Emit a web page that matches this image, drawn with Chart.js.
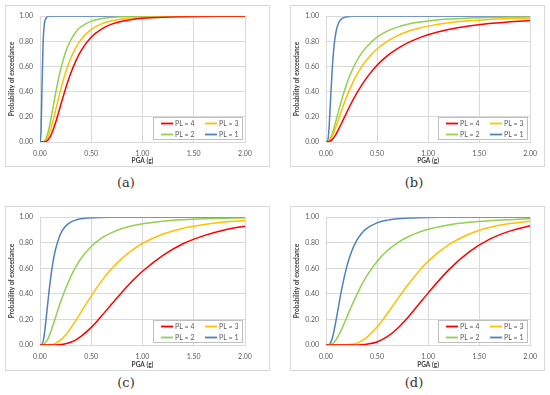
<!DOCTYPE html>
<html>
<head>
<meta charset="utf-8">
<script src="https://cdn.jsdelivr.net/npm/chart.js@4.4.1/dist/chart.umd.min.js"></script>
<style>
    body { margin: 0; background: #fff; width: 550px; height: 395px; position: relative; overflow: hidden; }
    .frame { position: absolute; border: 1px solid #d9d9d9; box-sizing: border-box; }
    canvas { position: absolute; }
    .cap { position: absolute; font-family: "DejaVu Serif", serif; font-size: 13px; color: #333; transform: translate(-50%, -50%); }
</style>
</head>
<body>
<div id="root"></div>
<script>
// PGA values (g) shared by every curve
const pga = [0, 0.01, 0.02, 0.03, 0.04, 0.06, 0.08, 0.1, 0.125, 0.15, 0.2, 0.25, 0.3, 0.35, 0.4,
             0.5, 0.6, 0.7, 0.8, 0.9, 1.0, 1.2, 1.4, 1.6, 1.8, 2.0];
const xTicks = [0, 0.5, 1.0, 1.5, 2.0];
const yTicks = [0, 0.2, 0.4, 0.6, 0.8, 1.0];
const seriesLabels = ['PL = 4', 'PL = 3', 'PL = 2', 'PL = 1'];

// (a)
const aPL4 = [0, 0, 0, 0, 0.0006, 0.005, 0.018, 0.043, 0.09, 0.149, 0.288, 0.425, 0.546, 0.645, 0.724, 0.834, 0.898, 0.937, 0.96, 0.974, 0.983, 0.992, 0.996, 0.998, 0.999, 1];
const aPL3 = [0, 0, 0, 0.0005, 0.002, 0.015, 0.045, 0.09, 0.163, 0.245, 0.412, 0.554, 0.666, 0.751, 0.814, 0.895, 0.939, 0.964, 0.978, 0.986, 0.991, 0.996, 0.998, 0.999, 1, 1];
const aPL2 = [0, 0, 0, 0.001, 0.005, 0.029, 0.081, 0.156, 0.265, 0.378, 0.572, 0.715, 0.811, 0.875, 0.916, 0.961, 0.981, 0.99, 0.995, 0.997, 0.998, 0.999, 1, 1, 1, 1];
const aPL1 = [0, 0.08, 0.45, 0.78, 0.92, 0.985, 0.998, 1, 1, 1, 1, 1, 1, 1, 1, 1, 1, 1, 1, 1, 1, 1, 1, 1, 1, 1];

// (b)
const bPL4 = [0, 0, 0.0005, 0.002, 0.006, 0.019, 0.039, 0.065, 0.104, 0.145, 0.23, 0.312, 0.386, 0.452, 0.512, 0.61, 0.684, 0.742, 0.788, 0.824, 0.853, 0.894, 0.922, 0.942, 0.955, 0.966];
const bPL3 = [0, 0, 0.002, 0.007, 0.015, 0.044, 0.082, 0.127, 0.185, 0.244, 0.355, 0.45, 0.531, 0.599, 0.654, 0.739, 0.8, 0.846, 0.879, 0.903, 0.921, 0.947, 0.963, 0.974, 0.981, 0.985];
const bPL2 = [0, 0, 0.002, 0.01, 0.022, 0.063, 0.117, 0.176, 0.253, 0.326, 0.456, 0.56, 0.642, 0.708, 0.758, 0.833, 0.881, 0.913, 0.936, 0.951, 0.962, 0.977, 0.985, 0.99, 0.993, 0.995];
const bPL1 = [0, 0, 0.022, 0.113, 0.261, 0.569, 0.773, 0.884, 0.95, 0.977, 0.995, 0.999, 1, 1, 1, 1, 1, 1, 1, 1, 1, 1, 1, 1, 1, 1];

// (c)
const cPL4 = [0, 0, 0, 0, 0, 0, 0, 0, 0, 0.0005, 0.003, 0.009, 0.021, 0.04, 0.067, 0.138, 0.227, 0.321, 0.413, 0.5, 0.577, 0.702, 0.794, 0.856, 0.9, 0.93];
const cPL3 = [0, 0, 0, 0, 0, 0, 0.0006, 0.002, 0.006, 0.013, 0.038, 0.079, 0.132, 0.192, 0.257, 0.385, 0.5, 0.598, 0.678, 0.743, 0.794, 0.868, 0.914, 0.943, 0.962, 0.974];
const cPL2 = [0, 0, 0, 0.002, 0.006, 0.024, 0.054, 0.093, 0.151, 0.212, 0.334, 0.442, 0.535, 0.613, 0.677, 0.771, 0.836, 0.879, 0.911, 0.933, 0.949, 0.969, 0.98, 0.987, 0.992, 0.994];
const cPL1 = [0, 0, 0.005, 0.026, 0.07, 0.206, 0.36, 0.5, 0.64, 0.743, 0.868, 0.93, 0.962, 0.978, 0.987, 0.995, 0.998, 0.999, 1, 1, 1, 1, 1, 1, 1, 1];

// (d)
const dPL4 = [0, 0, 0, 0, 0, 0, 0, 0, 0, 0, 0, 0, 0.0006, 0.002, 0.006, 0.024, 0.065, 0.129, 0.213, 0.309, 0.406, 0.586, 0.727, 0.826, 0.891, 0.933];
const dPL3 = [0, 0, 0, 0, 0, 0, 0, 0, 0, 0, 0.001, 0.005, 0.015, 0.033, 0.06, 0.14, 0.245, 0.359, 0.468, 0.568, 0.654, 0.783, 0.867, 0.919, 0.95, 0.969];
const dPL2 = [0, 0, 0, 0.0005, 0.002, 0.008, 0.022, 0.043, 0.077, 0.117, 0.209, 0.303, 0.39, 0.472, 0.541, 0.654, 0.738, 0.799, 0.845, 0.879, 0.905, 0.939, 0.96, 0.973, 0.981, 0.987];
const dPL1 = [0, 0, 0.0003, 0.003, 0.011, 0.049, 0.115, 0.2, 0.312, 0.421, 0.602, 0.729, 0.816, 0.875, 0.913, 0.956, 0.977, 0.988, 0.993, 0.996, 0.998, 0.999, 1, 1, 1, 1];

const lineColors = ['#ff0000', '#ffc000', '#92d050', '#4f81bd'];

// panel frame [left, top, width, height] and plot area [left, top, right, bottom] in page pixels
const panels = [
    { tag: '(a)', series: [aPL4, aPL3, aPL2, aPL1], box: [5, 5, 265, 162], plot: [40, 13, 245, 142], cap: [126, 182] },
    { tag: '(b)', series: [bPL4, bPL3, bPL2, bPL1], box: [290, 5, 255, 162], plot: [326, 13, 531, 142], cap: [414, 182] },
    { tag: '(c)', series: [cPL4, cPL3, cPL2, cPL1], box: [5, 206, 265, 165], plot: [40, 216, 245, 345], cap: [126, 382] },
    { tag: '(d)', series: [dPL4, dPL3, dPL2, dPL1], box: [290, 206, 255, 165], plot: [326, 216, 531, 345], cap: [414, 382] }
];

Chart.defaults.font.family = 'Lato';
Chart.defaults.color = '#595959';

// Excel-style legend box sitting in the lower right corner of the plot
const legendBox = {
    id: 'legendBox',
    afterDraw(chart) {
        const { ctx, chartArea } = chart;
        const w = 89, h = 22;
        const x0 = Math.round(chartArea.right - 3 - w), y0 = Math.round(chartArea.bottom - 3 - h);
        ctx.save();
        ctx.fillStyle = '#fff';
        ctx.fillRect(x0, y0, w, h);
        ctx.strokeStyle = '#bfbfbf';
        ctx.lineWidth = 1;
        ctx.strokeRect(x0 + 0.5, y0 + 0.5, w, h);
        ctx.font = '7px Lato';
        ctx.textBaseline = 'middle';
        chart.data.datasets.forEach((ds, i) => {
            const lx = x0 + 8 + (i % 2) * 44;
            const ly = y0 + 6.5 + Math.floor(i / 2) * 11;
            ctx.strokeStyle = ds.borderColor;
            ctx.lineWidth = 1.8;
            ctx.beginPath();
            ctx.moveTo(lx, ly);
            ctx.lineTo(lx + 12, ly);
            ctx.stroke();
            ctx.fillStyle = '#595959';
            ctx.fillText(ds.label, lx + 14, ly);
        });
        ctx.restore();
    }
};

const root = document.getElementById('root');

panels.forEach(p => {
    const [bl, bt, bw, bh] = p.box;
    const [pl, pt, pr, pb] = p.plot;

    const frame = document.createElement('div');
    frame.className = 'frame';
    Object.assign(frame.style, { left: bl + 'px', top: bt + 'px', width: bw + 'px', height: bh + 'px' });
    root.appendChild(frame);

    const canvas = document.createElement('canvas');
    canvas.width = bw;
    canvas.height = bh;
    Object.assign(canvas.style, { left: bl + 'px', top: bt + 'px', width: bw + 'px', height: bh + 'px' });
    root.appendChild(canvas);

    const cap = document.createElement('div');
    cap.className = 'cap';
    cap.textContent = p.tag;
    Object.assign(cap.style, { left: p.cap[0] + 'px', top: p.cap[1] + 'px' });
    root.appendChild(cap);

    new Chart(canvas.getContext('2d'), {
        type: 'line',
        data: {
            datasets: p.series.map((vals, i) => ({
                label: seriesLabels[i],
                data: pga.map((x, k) => ({ x: x, y: vals[k] })),
                borderColor: lineColors[i],
                borderWidth: 1.5,
                pointRadius: 0,
                fill: false,
                cubicInterpolationMode: 'monotone'
            }))
        },
        options: {
            responsive: false,
            animation: false,
            layout: {
                padding: { left: 0, top: pt - bt, right: bl + bw - pr, bottom: 0 }
            },
            plugins: {
                legend: { display: false },
                tooltip: { enabled: false }
            },
            scales: {
                x: {
                    type: 'linear',
                    min: 0,
                    max: 2,
                    afterFit: s => { s.height = bt + bh - pb; },
                    afterBuildTicks: s => { s.ticks = xTicks.map(v => ({ value: v })); },
                    grid: { color: '#d9d9d9', drawTicks: false },
                    border: { color: '#d9d9d9' },
                    ticks: {
                        padding: 8,
                        font: { size: 7 },
                        callback: v => v.toFixed(2)
                    },
                    title: {
                        display: true,
                        text: 'PGA (g)',
                        color: '#404040',
                        padding: { top: 0, bottom: 2 },
                        font: { size: 6.5, weight: 'bold' }
                    }
                },
                y: {
                    min: 0,
                    max: 1,
                    afterFit: s => { s.width = pl - bl; },
                    afterBuildTicks: s => { s.ticks = yTicks.map(v => ({ value: v })); },
                    grid: { color: '#d9d9d9', drawTicks: false },
                    border: { color: '#d9d9d9' },
                    ticks: {
                        padding: 7,
                        font: { size: 7 },
                        callback: v => v.toFixed(2)
                    },
                    title: {
                        display: true,
                        text: 'Probability of exceedance',
                        color: '#404040',
                        padding: { top: 3, bottom: 0 },
                        font: { size: 6.5, weight: 'bold' }
                    }
                }
            }
        },
        plugins: [legendBox]
    });
});
</script>
</body>
</html>
